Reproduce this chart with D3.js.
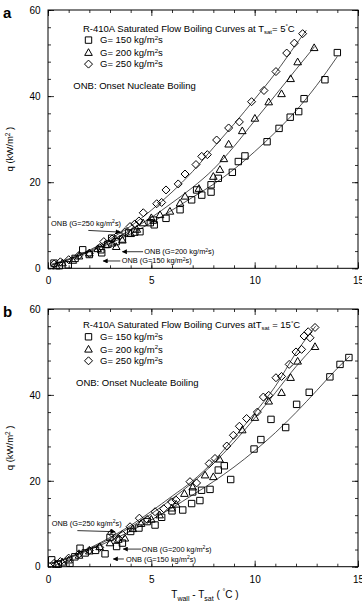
<!DOCTYPE html>
<html>
<head>
<meta charset="utf-8">
<script src="https://cdn.jsdelivr.net/npm/d3@7"></script>
<style>
body { margin: 0; background: #fff; }
svg { display: block; font-family: "Liberation Sans", Arial, sans-serif; }
</style>
</head>
<body>
<div id="chart"></div>
<script>
// tick values
var xMajor = [0, 5, 10, 15];
var xMinor = [0, 1, 2, 3, 4, 5, 6, 7, 8, 9, 10, 11, 12, 13, 14, 15];
var yMajor = [0, 20, 40, 60];
var yMinor = [0, 4, 8, 12, 16, 20, 24, 28, 32, 36, 40, 44, 48, 52, 56, 60];

var legendLabels = ["G= 150 kg/m\u00B2s", "G= 200 kg/m\u00B2s", "G= 250 kg/m\u00B2s"];

// panel a (Tsat = 5 C): measured points [Twall-Tsat, q]
var a150 = [[0.29,1.2],[0.55,0.6],[0.98,0.8],[1.31,2.3],[1.68,4.3],[2.0,3.2],[2.56,4.3],[2.6,3.6],[2.9,5.6],[3.08,7.0],[3.3,6.2],[3.6,6.8],[3.9,8.2],[4.2,8.4],[4.45,8.5],[4.95,10.6],[5.14,10.1],[5.1,11.2],[5.71,11.6],[6.39,13.6],[6.95,15.9],[7.19,18.2],[7.44,17.0],[7.89,17.7],[7.89,19.4],[8.24,20.9],[8.92,22.3],[9.21,24.8],[9.53,26.1],[10.6,29.4],[11.18,32.5],[11.72,35.1],[12.13,36.4],[12.39,39.4],[13.4,43.8],[14.0,50.1]];
var a200 = [[0.4,0.5],[0.7,1.2],[1.2,1.8],[1.5,2.8],[2.0,3.5],[2.4,4.5],[2.8,5.4],[3.1,5.8],[3.3,5.0],[3.6,6.5],[4.0,8.0],[4.3,9.0],[4.6,10.5],[5.0,11.7],[5.42,12.4],[5.9,13.2],[6.39,15.1],[6.63,16.7],[7.3,18.5],[8.0,21.3],[8.32,22.9],[8.51,25.4],[8.74,28.8],[9.4,31.9],[10.01,34.8],[10.68,38.6],[11.3,40.5],[11.74,44.0],[12.08,47.9],[12.88,51.2]];
var a250 = [[0.3,1.0],[0.6,1.5],[1.0,2.0],[1.5,3.0],[2.0,3.5],[2.5,4.8],[2.7,6.2],[3.1,6.8],[3.4,7.8],[3.73,8.5],[3.97,9.7],[4.2,10.3],[4.4,11.0],[4.61,12.9],[5.26,15.0],[5.5,15.3],[5.71,18.2],[6.3,19.6],[6.63,21.9],[7.16,24.1],[7.44,26.0],[7.71,26.4],[8.16,29.8],[8.74,32.6],[9.26,34.0],[9.85,38.7],[10.45,41.3],[11.03,45.7],[11.55,50.0],[11.92,52.3],[12.32,54.5]];

// panel a fitted curves
var a150Fit = [[0.2,0.8],[1,2],[2,3.8],[3,5.8],[4,8],[5,10.6],[6,13.5],[7,16.5],[8,19.5],[9,23],[10,27.1],[11,31.6],[12,36.6],[13,42.5],[14,49.2]];
var a200Fit = [[0.2,0.8],[1,2],[2,4],[3,6.3],[4,8.9],[5,11.8],[6,15.2],[7,18.8],[8,23],[9,28.3],[10,34.3],[11,40.2],[12,46.2],[12.9,51.5]];
var a250Fit = [[0.2,1],[1,2.2],[2,4.2],[3,6.8],[4,9.8],[5,13.5],[6,17.7],[7,22.5],[8,28],[9,33.5],[10,39.3],[11,45.3],[12,52],[12.5,55.3]];

// panel b (Tsat = 15 C)
var b150 = [[0.18,1.6],[0.5,0.6],[1.06,0.8],[1.3,2.3],[1.55,4.3],[1.8,3.2],[2.3,3.8],[2.76,3.0],[3.0,6.8],[3.32,4.7],[3.6,5.5],[4.0,8.2],[4.4,9.0],[4.8,10.5],[5.18,9.7],[5.5,11.5],[6.0,13.0],[6.52,13.2],[6.95,14.7],[7.0,17.4],[7.35,15.4],[7.43,17.8],[7.84,18.0],[8.24,22.5],[8.53,23.5],[8.84,20.3],[9.97,27.4],[10.3,29.6],[10.79,34.3],[11.5,32.4],[12.03,37.8],[12.64,40.6],[13.64,44.2],[14.13,47.1],[14.56,48.7]];
var b200 = [[0.4,0.5],[0.7,1.0],[1.0,1.5],[1.5,2.6],[2.0,3.6],[2.5,4.6],[3.0,5.5],[3.4,6.3],[3.72,6.6],[4.1,8.8],[4.5,10.0],[5.0,11.0],[5.4,12.0],[5.98,13.6],[6.2,14.5],[6.6,17.0],[7.0,18.5],[7.6,21.3],[8.0,20.9],[8.3,25.0],[9.4,31.8],[10.01,34.7],[10.68,38.5],[11.3,40.5],[11.74,44.0],[12.08,47.8],[12.92,51.2]];
var b250 = [[0.3,0.8],[0.6,1.2],[1.0,2.0],[1.5,3.0],[2.0,3.8],[2.5,4.5],[3.08,7.8],[3.4,6.5],[3.6,7.5],[3.97,9.3],[4.42,11.3],[4.8,11.0],[5.18,12.8],[5.6,13.5],[5.98,15.1],[6.2,15.5],[6.87,19.8],[7.19,19.5],[7.8,24.0],[8.08,25.2],[8.65,28.1],[8.97,30.6],[9.26,32.7],[9.61,34.5],[10.13,36.0],[10.42,39.5],[10.68,39.9],[11.03,44.0],[11.3,44.3],[11.67,47.1],[12.0,50.0],[12.27,50.6],[12.39,53.7],[12.68,53.3],[12.59,54.7],[12.92,55.7]];

var b150Fit = [[0.2,0.8],[1,2],[2,3.9],[3,6],[4,8.3],[5,10.9],[6,13.7],[7,16.7],[8,19.8],[9,23.2],[10,27],[11,31.2],[12,35.9],[13,41],[14,46.2],[14.6,49]];
var b200Fit = [[0.2,0.8],[1,2.1],[2,4.1],[3,6.5],[4,9.2],[5,12.3],[6,15.8],[7,19.6],[8,24],[9,29],[10,34.6],[11,40.5],[12,46.6],[12.92,51.5]];
var b250Fit = [[0.2,0.8],[1,2.2],[2,4.3],[3,6.8],[4,9.6],[5,12.9],[6,16.4],[7,20],[8,24.5],[9,30],[10,35.8],[11,42],[12,49.8],[12.5,53.2],[12.95,56]];

// ONB annotations: label position, arrow start, arrow end (data units)
var aOnb = [
    {label: "250", text: [0.15, 9.9], from: [1.95, 8.8], to: [3.5, 8.4]},
    {label: "200", text: [4.66, 3.3], from: [4.6, 3.85], to: [3.6, 3.85]},
    {label: "150", text: [3.57, 1.16], from: [3.5, 1.7], to: [2.67, 1.7]}
];
var bOnb = [
    {label: "250", text: [0.18, 9.5], from: [1.42, 8.4], to: [3.24, 8.15]},
    {label: "200", text: [4.53, 3.53], from: [4.5, 4.1], to: [3.64, 4.1]},
    {label: "150", text: [3.77, 1.2], from: [3.67, 1.8], to: [3.16, 1.8]}
];

var W = 362, H = 604;
var svg = d3.select("#chart").append("svg")
    .attr("width", W)
    .attr("height", H);

svg.append("defs").append("marker")
    .attr("id", "arrow")
    .attr("viewBox", "0 0 10 10")
    .attr("refX", 9).attr("refY", 5)
    .attr("markerWidth", 7).attr("markerHeight", 5)
    .attr("markerUnits", "userSpaceOnUse")
    .attr("orient", "auto")
    .append("path")
    .attr("d", "M0,0L10,5L0,10z")
    .attr("fill", "#000");

var shapes = {
    square: "M-3.2,-3.2H3.2V3.2H-3.2Z",
    triangle: "M0,-4L3.8,2.7H-3.8Z",
    diamond: "M0,-4L4,0L0,4L-4,0Z"
};

function drawPanel(cfg) {
    var x = d3.scaleLinear().domain([0, 15]).range([48, 358]);
    var y = d3.scaleLinear().domain([0, 60]).range([cfg.bottom, cfg.top]);
    var g = svg.append("g");

    // minor ticks, all four sides, inward
    g.append("g").attr("transform", "translate(0," + cfg.bottom + ")")
        .call(d3.axisBottom(x).tickValues(xMinor).tickSize(-3).tickFormat(""));
    g.append("g").attr("transform", "translate(0," + cfg.top + ")")
        .call(d3.axisTop(x).tickValues(xMinor).tickSize(-3).tickFormat(""));
    g.append("g").attr("transform", "translate(48,0)")
        .call(d3.axisLeft(y).tickValues(yMinor).tickSize(-3).tickFormat(""));
    g.append("g").attr("transform", "translate(358,0)")
        .call(d3.axisRight(y).tickValues(yMinor).tickSize(-3).tickFormat(""));

    // major ticks with labels
    g.append("g").attr("transform", "translate(0," + cfg.bottom + ")")
        .call(d3.axisBottom(x).tickValues(xMajor).tickSize(-6).tickPadding(9).tickFormat(d3.format("d")));
    g.append("g").attr("transform", "translate(0," + cfg.top + ")")
        .call(d3.axisTop(x).tickValues(xMajor).tickSize(-6).tickFormat(""));
    g.append("g").attr("transform", "translate(48,0)")
        .call(d3.axisLeft(y).tickValues(yMajor).tickSize(-6).tickPadding(7.5).tickFormat(d3.format("d")));
    g.append("g").attr("transform", "translate(358,0)")
        .call(d3.axisRight(y).tickValues(yMajor).tickSize(-6).tickFormat(""));

    g.selectAll(".domain").remove();
    g.selectAll(".tick line").attr("stroke", "#000").attr("stroke-width", 0.8);
    g.selectAll(".tick text").attr("font-size", 10).attr("fill", "#000")
        .attr("font-family", "'Liberation Sans', Arial, sans-serif");

    g.append("rect")
        .attr("x", 48).attr("y", cfg.top)
        .attr("width", 310).attr("height", cfg.bottom - cfg.top)
        .attr("fill", "none").attr("stroke", "#000").attr("stroke-width", 1);

    // fitted curves
    var line = d3.line().x(d => x(d[0])).y(d => y(d[1])).curve(d3.curveMonotoneX);
    cfg.fits.forEach(function(f) {
        g.append("path").attr("d", line(f))
            .attr("fill", "none").attr("stroke", "#222").attr("stroke-width", 0.8);
    });

    // points
    cfg.series.forEach(function(s) {
        g.selectAll(null).data(s.data).enter().append("path")
            .attr("d", shapes[s.shape])
            .attr("transform", d => "translate(" + x(d[0]) + "," + y(d[1]) + ")")
            .attr("fill", "none")
            .attr("stroke", "#000")
            .attr("stroke-width", 1);
    });

    // ONB annotations
    cfg.onb.forEach(function(o) {
        g.append("line")
            .attr("x1", x(o.from[0])).attr("y1", y(o.from[1]))
            .attr("x2", x(o.to[0])).attr("y2", y(o.to[1]))
            .attr("stroke", "#000").attr("stroke-width", 0.8)
            .attr("marker-end", "url(#arrow)");
        var t = g.append("text")
            .attr("x", x(o.text[0])).attr("y", y(o.text[1]))
            .attr("font-size", 7.4);
        t.append("tspan").text("ONB (G=" + o.label + " kg/m");
        t.append("tspan").attr("font-size", 5).attr("dy", -2.5).text("2");
        t.append("tspan").attr("dy", 2.5).text("s)");
    });

    // legend
    var ly = cfg.legendY;
    var title = g.append("text").attr("x", 83).attr("y", ly + 3.3).attr("font-size", 9.5);
    title.append("tspan").text(cfg.titlePre);
    title.append("tspan").attr("font-size", 6).attr("dy", 2).text("sat");
    title.append("tspan").attr("dy", -2).text(cfg.titleTemp);
    title.append("tspan").attr("font-size", 6).attr("dy", -3.5).text("\u00B0");
    title.append("tspan").attr("dy", 3.5).text("C");

    var rowOff = [11.8, 24.4, 35.8];
    cfg.series.forEach(function(s, i) {
        g.append("path").attr("d", shapes[s.shape])
            .attr("transform", "translate(88.5," + (ly + rowOff[i]) + ")")
            .attr("fill", "none").attr("stroke", "#000").attr("stroke-width", 1);
        var lt = g.append("text").attr("x", 100).attr("y", ly + rowOff[i] + 3.3).attr("font-size", 9.5);
        var parts = legendLabels[i].split("\u00B2");
        lt.append("tspan").text(parts[0]);
        lt.append("tspan").attr("font-size", 6).attr("dy", -3.5).text("2");
        lt.append("tspan").attr("dy", 3.5).text(parts[1]);
    });

    g.append("text").attr("x", cfg.onbX).attr("y", ly + 61)
        .attr("font-size", 9.5).text("ONB: Onset Nucleate Boiling");

    // y label
    var yl = g.append("text")
        .attr("transform", "translate(13," + ((cfg.top + cfg.bottom) / 2 + 10) + ") rotate(-90)")
        .attr("text-anchor", "middle").attr("font-size", 9.5);
    yl.append("tspan").text("q (kW/m");
    yl.append("tspan").attr("font-size", 6.5).attr("dy", -3.5).text("2");
    yl.append("tspan").attr("dy", 3.5).text(" )");

    // panel letter
    g.append("text").attr("x", 3).attr("y", cfg.top + 8)
        .attr("font-size", 15).attr("font-weight", "bold").text(cfg.letter);

    return {x: x, y: y};
}

drawPanel({
    top: 10, bottom: 268.3, letter: "a", legendY: 28.3, onbX: 73.3,
    titlePre: "R-410A Saturated Flow Boiling Curves at T", titleTemp: "= 5",
    fits: [a150Fit, a200Fit, a250Fit],
    series: [{shape: "square", data: a150}, {shape: "triangle", data: a200}, {shape: "diamond", data: a250}],
    onb: aOnb
});

drawPanel({
    top: 309, bottom: 566.7, letter: "b", legendY: 325, onbX: 76,
    titlePre: "R-410A Saturated Flow Boiling Curves atT", titleTemp: " = 15",
    fits: [b150Fit, b200Fit, b250Fit],
    series: [{shape: "square", data: b150}, {shape: "triangle", data: b200}, {shape: "diamond", data: b250}],
    onb: bOnb
});

// x axis title
var xt = svg.append("text").attr("x", 205).attr("y", 598)
    .attr("text-anchor", "middle").attr("font-size", 10);
xt.append("tspan").text("T");
xt.append("tspan").attr("font-size", 7).attr("dy", 3).text("wall");
xt.append("tspan").attr("dy", -3).text(" - T");
xt.append("tspan").attr("font-size", 7).attr("dy", 3).text("sat");
xt.append("tspan").attr("dy", -3).text(" ( ");
xt.append("tspan").attr("font-size", 7).attr("dy", -4).text("\u00B0");
xt.append("tspan").attr("dy", 4).text("C )");
</script>
</body>
</html>
